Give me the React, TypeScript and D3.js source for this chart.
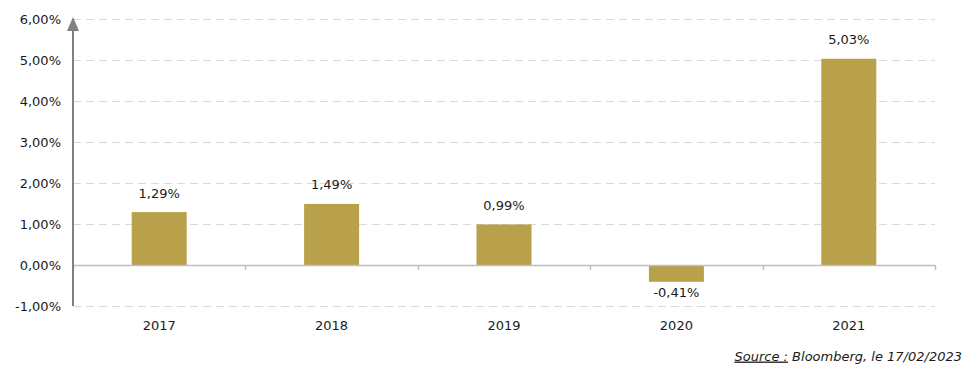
import React from "react";
import * as d3 from "d3";

const categories = ["2017", "2018", "2019", "2020", "2021"];
const values = [1.29, 1.49, 0.99, -0.41, 5.03];
const yTicks = [-1, 0, 1, 2, 3, 4, 5, 6];

const W = 969;
const H = 379;
const left = 73;
const right = 935;
const FONT = "'DejaVu Sans', Verdana, sans-serif";

const fmt = (v: number) => v.toFixed(2).replace(".", ",") + "%";

export default function App() {
  const y = d3.scaleLinear().domain([-1, 6]).range([306, 19]);
  const x = d3.scaleBand().domain(categories).range([left, right]).paddingInner(0).paddingOuter(0);
  const barW = 55;
  return (
    <svg width={W} height={H} style={{ position: "absolute", left: 0, top: 0, background: "#fff" }}>
      {yTicks.map((t) => (
        <g key={t}>
          {t !== 0 && (
            <line x1={left} x2={right} y1={y(t) + 0.5} y2={y(t) + 0.5} stroke="#d9d9d9" strokeWidth={1} strokeDasharray="8,5" />
          )}
          <text x={61} y={y(t)} dy="0.35em" textAnchor="end" fontSize={13} fontFamily={FONT} fill="#1a1a1a">
            {fmt(t)}
          </text>
        </g>
      ))}
      {categories.map((c, i) => {
        const v = values[i];
        const cx = (x(c) as number) + x.bandwidth() / 2;
        const y0 = y(0);
        const yv = y(v);
        return (
          <g key={c}>
            <rect x={cx - barW / 2} y={Math.min(y0, yv)} width={barW} height={Math.abs(yv - y0)} fill="#b9a04b" />
            <text
              x={cx}
              y={v >= 0 ? yv - 19 : yv + 11}
              dy="0.35em"
              textAnchor="middle"
              fontSize={13}
              fontFamily={FONT}
              fill="#1a1a1a"
            >
              {fmt(v)}
            </text>
            <text x={cx} y={y(-1) + 19} dy="0.35em" textAnchor="middle" fontSize={13} fontFamily={FONT} fill="#1a1a1a">
              {c}
            </text>
          </g>
        );
      })}
      <line x1={left} x2={right} y1={y(0) + 0.5} y2={y(0) + 0.5} stroke="#bfbfbf" strokeWidth={1.5} />
      {d3.range(categories.length + 1).map((i) => {
        const xx = Math.round(left + i * x.bandwidth()) + 0.5;
        return <line key={i} x1={xx} x2={xx} y1={y(0)} y2={y(0) + 5} stroke="#bfbfbf" strokeWidth={1.5} />;
      })}
      <line x1={left} x2={left} y1={y(-1)} y2={28} stroke="#808080" strokeWidth={2} />
      <path d={`M${left - 6},${31} L${left},${17} L${left + 6},${31} Z`} fill="#808080" />
      <text x={962} y={356} dy="0.35em" textAnchor="end" fontSize={13} fontStyle="italic" fontFamily={FONT} fill="#1a1a1a">
        <tspan textDecoration="underline">Source :</tspan>
        <tspan> Bloomberg, le 17/02/2023</tspan>
      </text>
    </svg>
  );
}
